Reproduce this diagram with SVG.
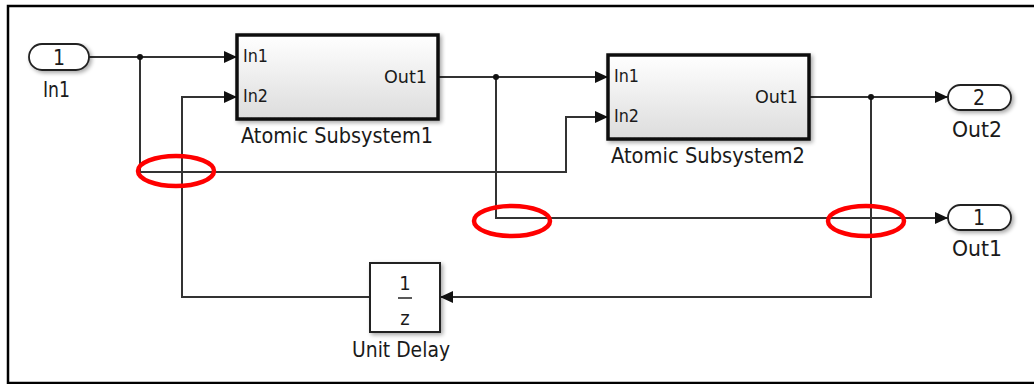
<svg xmlns="http://www.w3.org/2000/svg" width="1034" height="384" viewBox="0 0 1034 384">
<style>
.wire{fill:none;stroke:#333;stroke-width:2}
.lbl{font-family:"DejaVu Sans Condensed","Liberation Sans",Arial,sans-serif;fill:#1a1a1a}
.port{fill:#fff;stroke:#222;stroke-width:1.8}
.sub{fill:url(#grad);stroke:#111;stroke-width:3.5}
.ring{fill:none;stroke:#ff0000;stroke-width:4.5}
</style>
<defs>
<linearGradient id="grad" x1="0" y1="0" x2="0" y2="1">
<stop offset="0" stop-color="#ffffff"/>
<stop offset="1" stop-color="#dcdcdc"/>
</linearGradient>
<filter id="sh" x="-10%" y="-10%" width="130%" height="140%">
<feGaussianBlur in="SourceAlpha" stdDeviation="2"/>
<feOffset dx="2" dy="2" result="b"/>
<feComponentTransfer><feFuncA type="linear" slope="0.35"/></feComponentTransfer>
<feMerge><feMergeNode/><feMergeNode in="SourceGraphic"/></feMerge>
</filter>
<marker id="arr" markerUnits="userSpaceOnUse" markerWidth="14" markerHeight="14" viewBox="0 0 14 14" refX="13" refY="7" orient="auto">
<path d="M0,1 L13,7 L0,13 Z" fill="#111"/>
</marker>
</defs>

<rect x="0" y="0" width="1034" height="384" fill="#fff"/>
<path d="M1034,6 H8 V383 H1034" fill="none" stroke="#000" stroke-width="2.5"/>

<g id="connectors">
<path class="wire" d="M89,57 H237" marker-end="url(#arr)"/>
<path class="wire" d="M140,57 V172 H566 V117 H608" marker-end="url(#arr)"/>
<path class="wire" d="M438,77 H608" marker-end="url(#arr)"/>
<path class="wire" d="M496,77 V218 H948" marker-end="url(#arr)"/>
<path class="wire" d="M809,97 H948" marker-end="url(#arr)"/>
<path class="wire" d="M871,97 V297 H440" marker-end="url(#arr)"/>
<path class="wire" d="M370,297 H182 V97 H237" marker-end="url(#arr)"/>
<circle cx="140" cy="57" r="3" fill="#111"/>
<circle cx="496" cy="77" r="3" fill="#111"/>
<circle cx="871" cy="97" r="3" fill="#111"/>
</g>

<g id="in1">
<rect class="port" x="29" y="44" width="60" height="26" rx="13" filter="url(#sh)"/>
<text class="lbl" x="59" y="65" font-size="21" text-anchor="middle">1</text>
<text class="lbl" x="43" y="97" font-size="21" textLength="27" lengthAdjust="spacingAndGlyphs">In1</text>
</g>

<g id="sub1">
<rect class="sub" x="237" y="35" width="201" height="84" filter="url(#sh)"/>
<text class="lbl" x="243" y="62" font-size="18" textLength="25" lengthAdjust="spacingAndGlyphs">In1</text>
<text class="lbl" x="243" y="102" font-size="18" textLength="25" lengthAdjust="spacingAndGlyphs">In2</text>
<text class="lbl" x="384" y="83" font-size="18" textLength="43" lengthAdjust="spacingAndGlyphs">Out1</text>
<text class="lbl" x="241" y="143" font-size="21" textLength="192" lengthAdjust="spacingAndGlyphs">Atomic Subsystem1</text>
</g>

<g id="sub2">
<rect class="sub" x="608" y="55" width="201" height="84" filter="url(#sh)"/>
<text class="lbl" x="614" y="82" font-size="18" textLength="25" lengthAdjust="spacingAndGlyphs">In1</text>
<text class="lbl" x="614" y="122" font-size="18" textLength="25" lengthAdjust="spacingAndGlyphs">In2</text>
<text class="lbl" x="755" y="103" font-size="18" textLength="43" lengthAdjust="spacingAndGlyphs">Out1</text>
<text class="lbl" x="611" y="163" font-size="21" textLength="194" lengthAdjust="spacingAndGlyphs">Atomic Subsystem2</text>
</g>

<g id="unitdelay">
<rect x="370" y="263" width="70" height="69" fill="#fff" stroke="#222" stroke-width="2" filter="url(#sh)"/>
<text class="lbl" x="405" y="290" font-size="20" text-anchor="middle">1</text>
<line x1="398" y1="298" x2="412" y2="298" stroke="#222" stroke-width="1.5"/>
<text class="lbl" x="405" y="325" font-size="20" text-anchor="middle">z</text>
<text class="lbl" x="352" y="357" font-size="21" textLength="98" lengthAdjust="spacingAndGlyphs">Unit Delay</text>
</g>

<g id="out2">
<rect class="port" x="948" y="85" width="63" height="25" rx="12.5" filter="url(#sh)"/>
<text class="lbl" x="979" y="105" font-size="21" text-anchor="middle">2</text>
<text class="lbl" x="952" y="137" font-size="21" textLength="50" lengthAdjust="spacingAndGlyphs">Out2</text>
</g>

<g id="out1">
<rect class="port" x="948" y="205" width="63" height="25" rx="12.5" filter="url(#sh)"/>
<text class="lbl" x="979" y="225" font-size="21" text-anchor="middle">1</text>
<text class="lbl" x="952" y="256" font-size="21" textLength="50" lengthAdjust="spacingAndGlyphs">Out1</text>
</g>

<g id="highlights">
<ellipse class="ring" cx="176" cy="171" rx="38" ry="15"/>
<ellipse class="ring" cx="512" cy="221" rx="38" ry="15"/>
<ellipse class="ring" cx="866" cy="221" rx="38" ry="15"/>
</g>
</svg>
